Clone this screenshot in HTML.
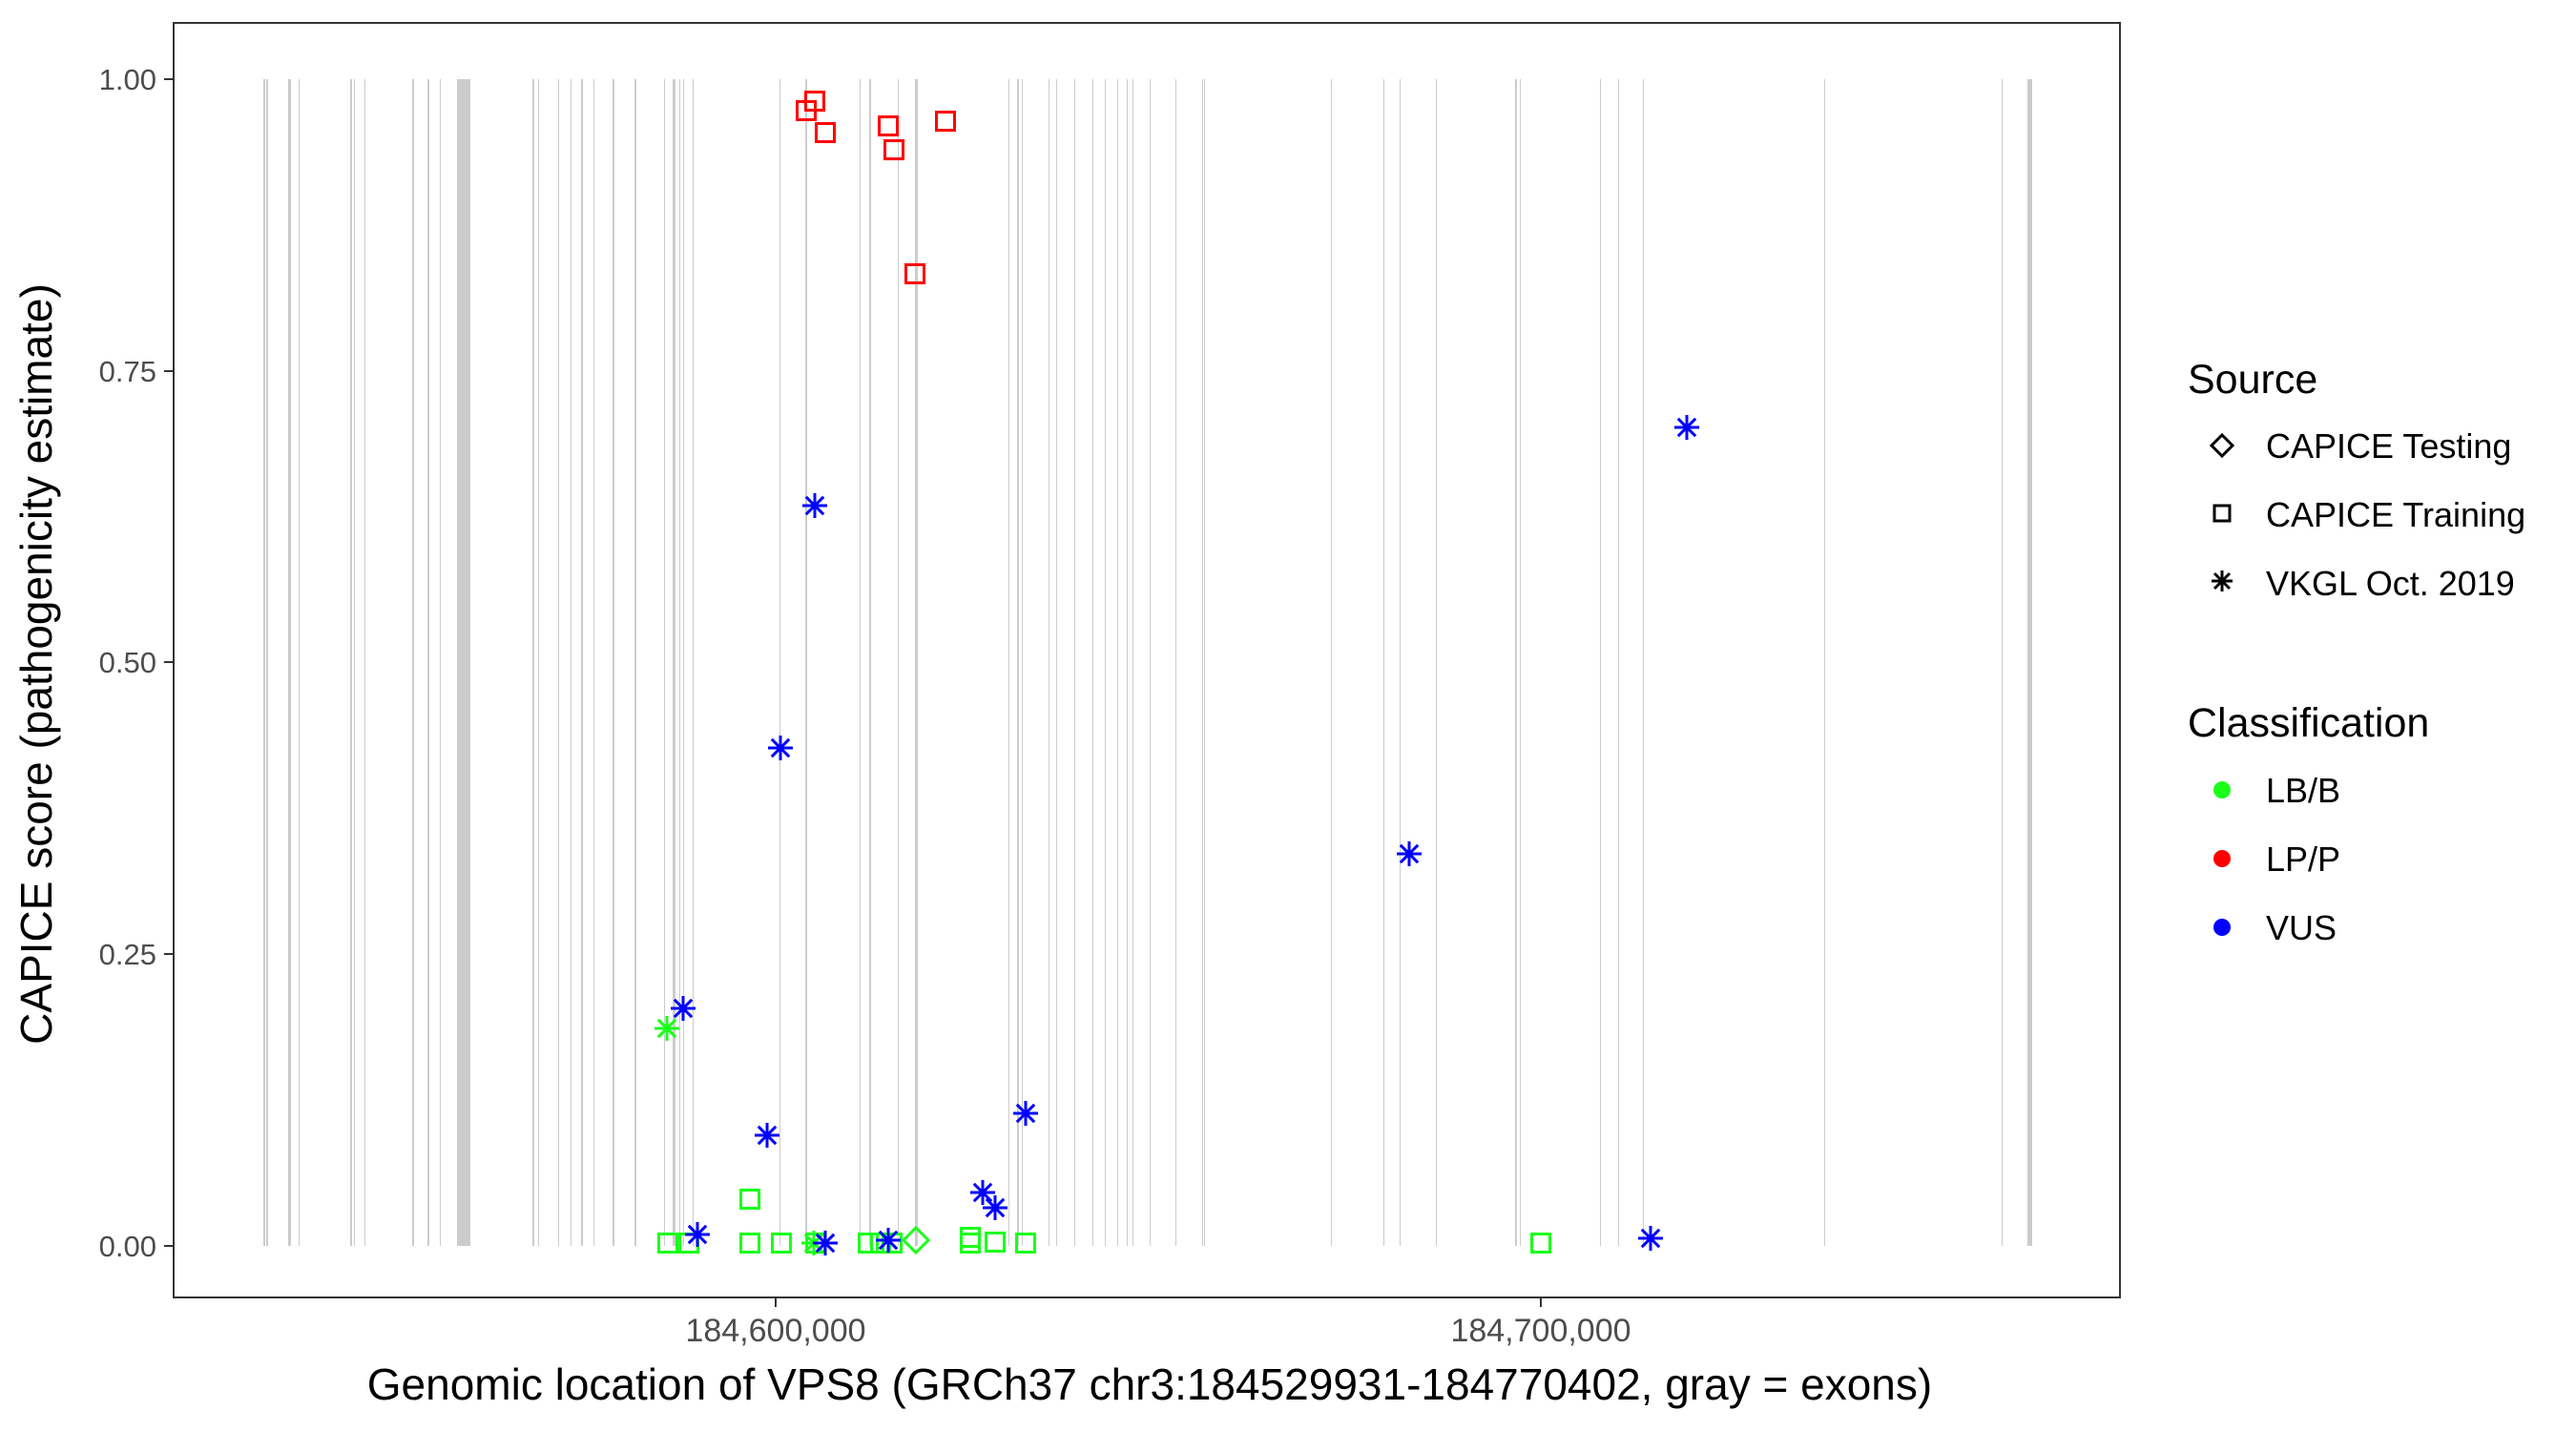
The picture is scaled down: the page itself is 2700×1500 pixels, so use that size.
<!DOCTYPE html>
<html><head><meta charset="utf-8"><style>html,body{margin:0;padding:0;background:#fff}svg{display:block}</style></head>
<body>
<svg xmlns="http://www.w3.org/2000/svg" width="2700" height="1500" viewBox="0 0 2700 1500" font-family="Liberation Sans, Arial, sans-serif">
<defs>
<g id="sq"><rect x="-9.5" y="-9.5" width="19" height="19" fill="none" stroke-width="3"/></g>
<g id="st"><path d="M0,-13V13M-13,0H13M-9.2,-9.2L9.2,9.2M-9.2,9.2L9.2,-9.2" fill="none" stroke-width="3"/></g>
<g id="di"><path d="M0,-13L13,0L0,13L-13,0Z" fill="none" stroke-width="3"/></g>
</defs>
<rect width="2700" height="1500" fill="#fff"/>
<g fill="#cccccc">
<rect x="276" y="83" width="2" height="1223"/><rect x="279" y="83" width="2" height="1223"/><rect x="302" y="83" width="3" height="1223"/><rect x="313" y="83" width="1" height="1223"/><rect x="367" y="83" width="2" height="1223"/><rect x="371" y="83" width="1" height="1223"/><rect x="382" y="83" width="1" height="1223"/><rect x="432" y="83" width="2" height="1223"/><rect x="448" y="83" width="2" height="1223"/><rect x="461" y="83" width="1" height="1223"/><rect x="479" y="83" width="14" height="1223"/><rect x="558" y="83" width="2" height="1223"/><rect x="564" y="83" width="1" height="1223"/><rect x="585" y="83" width="1" height="1223"/><rect x="598" y="83" width="1" height="1223"/><rect x="609" y="83" width="2" height="1223"/><rect x="622" y="83" width="1" height="1223"/><rect x="642" y="83" width="2" height="1223"/><rect x="665" y="83" width="2" height="1223"/><rect x="696" y="83" width="1" height="1223"/><rect x="705" y="83" width="3" height="1223"/><rect x="712" y="83" width="1" height="1223"/><rect x="716" y="83" width="1" height="1223"/><rect x="726" y="83" width="1" height="1223"/><rect x="817" y="83" width="1" height="1223"/><rect x="844" y="83" width="2" height="1223"/><rect x="901" y="83" width="1" height="1223"/><rect x="911" y="83" width="2" height="1223"/><rect x="941" y="83" width="1" height="1223"/><rect x="959" y="83" width="3" height="1223"/><rect x="1057" y="83" width="1" height="1223"/><rect x="1066" y="83" width="2" height="1223"/><rect x="1071" y="83" width="1" height="1223"/><rect x="1099" y="83" width="1" height="1223"/><rect x="1107" y="83" width="1" height="1223"/><rect x="1126" y="83" width="1" height="1223"/><rect x="1145" y="83" width="1" height="1223"/><rect x="1158" y="83" width="1" height="1223"/><rect x="1171" y="83" width="1" height="1223"/><rect x="1181" y="83" width="1" height="1223"/><rect x="1187" y="83" width="1" height="1223"/><rect x="1205" y="83" width="1" height="1223"/><rect x="1232" y="83" width="1" height="1223"/><rect x="1260" y="83" width="1" height="1223"/><rect x="1262" y="83" width="1" height="1223"/><rect x="1395" y="83" width="1" height="1223"/><rect x="1450" y="83" width="1" height="1223"/><rect x="1467" y="83" width="1" height="1223"/><rect x="1505" y="83" width="1" height="1223"/><rect x="1588" y="83" width="2" height="1223"/><rect x="1593" y="83" width="1" height="1223"/><rect x="1677" y="83" width="1" height="1223"/><rect x="1696" y="83" width="1" height="1223"/><rect x="1722" y="83" width="1" height="1223"/><rect x="1912" y="83" width="1" height="1223"/><rect x="2098" y="83" width="1" height="1223"/><rect x="2125" y="83" width="5" height="1223"/>
</g>
<g stroke="#ff0000">
<use href="#sq" x="854" y="106"/><use href="#sq" x="845" y="116"/><use href="#sq" x="865" y="139"/><use href="#sq" x="931" y="132"/><use href="#sq" x="937" y="157"/><use href="#sq" x="991" y="127"/><use href="#sq" x="959" y="287"/>
</g>
<g stroke="#1aff1a">
<use href="#sq" x="700" y="1303"/><use href="#sq" x="722" y="1303"/><use href="#sq" x="786" y="1257"/><use href="#sq" x="786" y="1303"/><use href="#sq" x="819" y="1303"/><use href="#sq" x="855" y="1303"/><use href="#sq" x="910" y="1303"/><use href="#sq" x="923" y="1303"/><use href="#sq" x="935" y="1303"/><use href="#sq" x="1017" y="1297"/><use href="#sq" x="1017" y="1303"/><use href="#sq" x="1043" y="1302"/><use href="#sq" x="1075" y="1303"/><use href="#sq" x="1615" y="1303"/>
<use href="#di" x="960" y="1300"/>
<use href="#st" x="699" y="1078"/><use href="#st" x="853" y="1303"/>
</g>
<g stroke="#0000ff">
<use href="#st" x="854" y="530"/><use href="#st" x="818" y="784"/><use href="#st" x="716" y="1057"/><use href="#st" x="804" y="1190"/><use href="#st" x="1075" y="1167"/><use href="#st" x="1030" y="1250"/><use href="#st" x="1043" y="1266"/><use href="#st" x="731" y="1294"/><use href="#st" x="865" y="1303"/><use href="#st" x="931" y="1300"/><use href="#st" x="1477" y="895"/><use href="#st" x="1768" y="448"/><use href="#st" x="1730" y="1298"/>
</g>
<rect x="182" y="24" width="2040" height="1336" fill="none" stroke="#333" stroke-width="2"/>
<g stroke="#333" stroke-width="2">
<line x1="172" y1="83" x2="182" y2="83"/><line x1="172" y1="389" x2="182" y2="389"/><line x1="172" y1="694" x2="182" y2="694"/><line x1="172" y1="1000" x2="182" y2="1000"/><line x1="172" y1="1306" x2="182" y2="1306"/>
<line x1="813" y1="1360" x2="813" y2="1370"/><line x1="1615" y1="1360" x2="1615" y2="1370"/>
</g>
<g fill="#4d4d4d" font-size="31" text-anchor="end">
<text x="164" y="94">1.00</text><text x="164" y="400">0.75</text><text x="164" y="705">0.50</text><text x="164" y="1011">0.25</text><text x="164" y="1317">0.00</text>
</g>
<g fill="#4d4d4d" font-size="34" text-anchor="middle">
<text x="813" y="1406">184,600,000</text><text x="1615" y="1406">184,700,000</text>
</g>
<text x="1205" y="1467" font-size="46" text-anchor="middle" fill="#000">Genomic location of VPS8 (GRCh37 chr3:184529931-184770402, gray = exons)</text>
<text transform="translate(54,696) rotate(-90)" font-size="46" text-anchor="middle" fill="#000">CAPICE score (pathogenicity estimate)</text>
<g font-size="43" fill="#000"><text x="2293" y="412">Source</text><text x="2293" y="772">Classification</text></g>
<g font-size="36" fill="#000">
<text x="2375" y="480">CAPICE Testing</text><text x="2375" y="552">CAPICE Training</text><text x="2375" y="624">VKGL Oct. 2019</text>
<text x="2375" y="841">LB/B</text><text x="2375" y="913">LP/P</text><text x="2375" y="985">VUS</text>
</g>
<g stroke="#000">
<path d="M2329,456L2340,467L2329,478L2318,467Z" fill="none" stroke-width="3"/>
<rect x="2321" y="530" width="16" height="16" fill="none" stroke-width="3"/>
<path d="M2329,598V620M2318,609H2340M2321,601L2337,617M2321,617L2337,601" fill="none" stroke-width="3"/>
</g>
<circle cx="2329" cy="828" r="9" fill="#1aff1a"/><circle cx="2329" cy="900" r="9" fill="#ff0000"/><circle cx="2329" cy="972" r="9" fill="#0000ff"/>
</svg>
</body></html>
